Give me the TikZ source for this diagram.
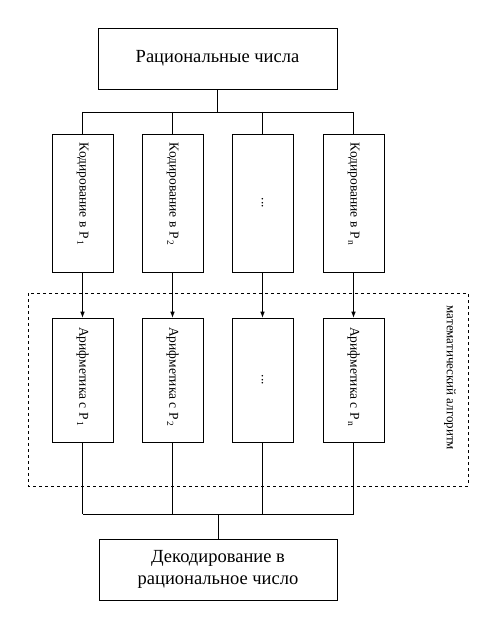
\documentclass[tikz,border=0pt]{standalone}
\usepackage{fontspec}
\setmainfont{Liberation Serif}
\usetikzlibrary{arrows.meta}

\begin{document}
\begin{tikzpicture}[x=1pt,y=-1pt,
    box/.style={draw,semithick,align=center,inner sep=0pt,font=\fontsize{18.5}{21.5}\selectfont},
    colbox/.style={draw,semithick,rotate=-90,inner sep=0pt,align=flush left,minimum height=61pt,font=\fontsize{13.5}{16}\selectfont},
    link/.style={semithick},
    arr/.style={semithick,-{Latex[length=6pt,width=4.5pt]}}]
  \useasboundingbox (0,0) rectangle (496,628);
  % top and bottom boxes
  \node[box,minimum width=239pt,minimum height=61pt] (rat) at (217.5,58.5) {Рациональные числа};
  \node[box,minimum width=238pt,minimum height=61pt] (dek) at (218,569.5) {Декодирование в\\рациональное число};
  % coding
  \node[colbox,minimum width=138pt,text width=120pt] (kod1) at (82.5,203) {Кодирование в P\,\textsubscript{1}};
  \node[colbox,minimum width=138pt,text width=120pt] (kod2) at (172.5,203) {Кодирование в P\,\textsubscript{2}};
  \node[colbox,minimum width=138pt,align=center] (kod3) at (262.5,203) {...};
  \node[colbox,minimum width=138pt,text width=120pt] (kod4) at (353.5,203) {Кодирование в P\,\textsubscript{n}};
  % arithmetic
  \node[colbox,minimum width=124pt,text width=106pt] (ar1) at (82.5,380) {Арифметика с P\,\textsubscript{1}};
  \node[colbox,minimum width=124pt,text width=106pt] (ar2) at (172.5,380) {Арифметика с P\,\textsubscript{2}};
  \node[colbox,minimum width=124pt,align=center] (ar3) at (262.5,380) {...};
  \node[colbox,minimum width=124pt,text width=106pt] (ar4) at (353.5,380) {Арифметика с P\,\textsubscript{n}};
  % dashed frame
  \draw[semithick,dashed] (28,293) rectangle (468,486);
  \node[rotate=-90,font=\fontsize{13}{15}\selectfont] (alg) at (450,378) {математический алгоритм};
  % connectors
  \coordinate (topbus) at (0,112);
  \coordinate (botbus) at (0,514);
  \draw[link] (rat) -- (rat |- topbus);
  \draw[link] (kod1 |- topbus) -- (kod4 |- topbus);
  \draw[link] (kod1 |- topbus) -- (kod1);
  \draw[link] (kod2 |- topbus) -- (kod2);
  \draw[link] (kod3 |- topbus) -- (kod3);
  \draw[link] (kod4 |- topbus) -- (kod4);
  \draw[arr] (kod1) -- (ar1);
  \draw[arr] (kod2) -- (ar2);
  \draw[arr] (kod3) -- (ar3);
  \draw[arr] (kod4) -- (ar4);
  \draw[link] (ar1) -- (ar1 |- botbus);
  \draw[link] (ar2) -- (ar2 |- botbus);
  \draw[link] (ar3) -- (ar3 |- botbus);
  \draw[link] (ar4) -- (ar4 |- botbus);
  \draw[link] (ar1 |- botbus) -- (ar4 |- botbus);
  \draw[link] (dek) -- (dek |- botbus);
\end{tikzpicture}
\end{document}
